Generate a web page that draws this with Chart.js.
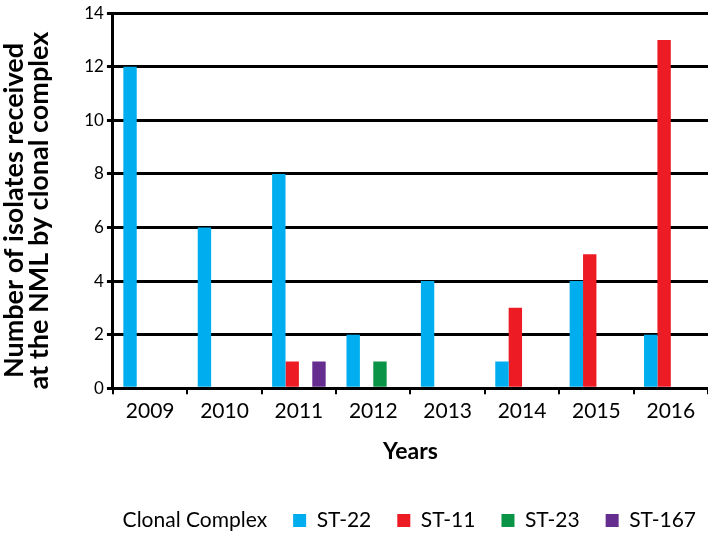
<!DOCTYPE html>
<html>
<head>
<meta charset="utf-8">
<script src="https://cdn.jsdelivr.net/npm/chart.js@4"></script>
<style>
  html, body { margin: 0; padding: 0; background: #fff; }
  #wrap { width: 708px; height: 536px; }
</style>
</head>
<body>
<div id="wrap"><canvas id="isolatesChart"></canvas></div>
<script>
const years = ['2009', '2010', '2011', '2012', '2013', '2014', '2015', '2016'];
const st22 = [12, 6, 8, 2, 4, 1, 4, 2];
const st11 = [0, 0, 1, 0, 0, 3, 5, 13];
const st23 = [0, 0, 0, 1, 0, 0, 0, 0];
const st167 = [0, 0, 1, 0, 0, 0, 0, 0];
const yTicks = [0, 2, 4, 6, 8, 10, 12, 14];

const FONT = 'Lato, "Open Sans", sans-serif';

// nudge the legend a bit to the right, like the original
const legendShift = {
    id: 'legendShift',
    afterLayout(chart) {
        if (chart.legend) {
            chart.legend.left += 14;
            chart.legend.right += 14;
        }
    }
};

function initChart() {
    const ctx = document.getElementById('isolatesChart').getContext('2d');

    new Chart(ctx, {
        type: 'bar',
        data: {
            labels: years,
            datasets: [
                { label: 'ST-22', data: st22, backgroundColor: '#00AEEF' },
                { label: 'ST-11', data: st11, backgroundColor: '#ED1C24' },
                { label: 'ST-23', data: st23, backgroundColor: '#0A9447' },
                { label: 'ST-167', data: st167, backgroundColor: '#662D91' }
            ]
        },
        plugins: [legendShift],
        options: {
            responsive: true,
            maintainAspectRatio: false,
            animation: false,
            categoryPercentage: 0.72,
            barPercentage: 1.0,
            layout: {
                padding: { top: 8, right: 0, left: 2, bottom: -5 }
            },
            plugins: {
                tooltip: { enabled: false },
                legend: {
                    position: 'bottom',
                    align: 'end',
                    labels: {
                        font: { family: FONT, size: 21 },
                        color: '#000',
                        boxWidth: 13,
                        boxHeight: 13,
                        padding: 26,
                        generateLabels: function (chart) {
                            const items = Chart.defaults.plugins.legend.labels.generateLabels(chart);
                            items.unshift({
                                text: 'Clonal Complex',
                                fillStyle: 'rgba(0,0,0,0)',
                                strokeStyle: 'rgba(0,0,0,0)',
                                lineWidth: 0,
                                hidden: false,
                                datasetIndex: -1
                            });
                            items.forEach(it => { it.lineWidth = 0; });
                            return items;
                        }
                    }
                }
            },
            scales: {
                x: {
                    offset: true,
                    grid: {
                        display: true,
                        drawOnChartArea: false,
                        offset: true,
                        color: '#000',
                        lineWidth: 2,
                        tickLength: 6
                    },
                    border: { display: true, color: '#000', width: 3 },
                    ticks: {
                        color: '#000',
                        padding: 4,
                        font: { family: FONT, size: 21 }
                    },
                    title: {
                        display: true,
                        text: 'Years',
                        color: '#000',
                        font: { family: FONT, size: 23, weight: 'bold' },
                        padding: { top: 10, bottom: 19 }
                    }
                },
                y: {
                    min: 0,
                    max: 14,
                    afterBuildTicks: function (axis) {
                        axis.ticks = yTicks.map(v => ({ value: v }));
                    },
                    grid: {
                        color: '#000',
                        lineWidth: 3,
                        tickLength: 6
                    },
                    border: { display: true, color: '#000', width: 3 },
                    ticks: {
                        color: '#000',
                        padding: 3,
                        font: { family: FONT, size: 17 }
                    },
                    title: {
                        display: true,
                        // trailing spaces push the title a little toward the bottom
                        text: ['Number of isolates received   ', 'at the NML by clonal complex   '],
                        color: '#000',
                        font: { family: FONT, size: 27, weight: 'bold', lineHeight: 0.93 },
                        padding: { top: 0, bottom: 29 }
                    }
                }
            }
        }
    });
}

document.addEventListener('DOMContentLoaded', initChart);
</script>
</body>
</html>
